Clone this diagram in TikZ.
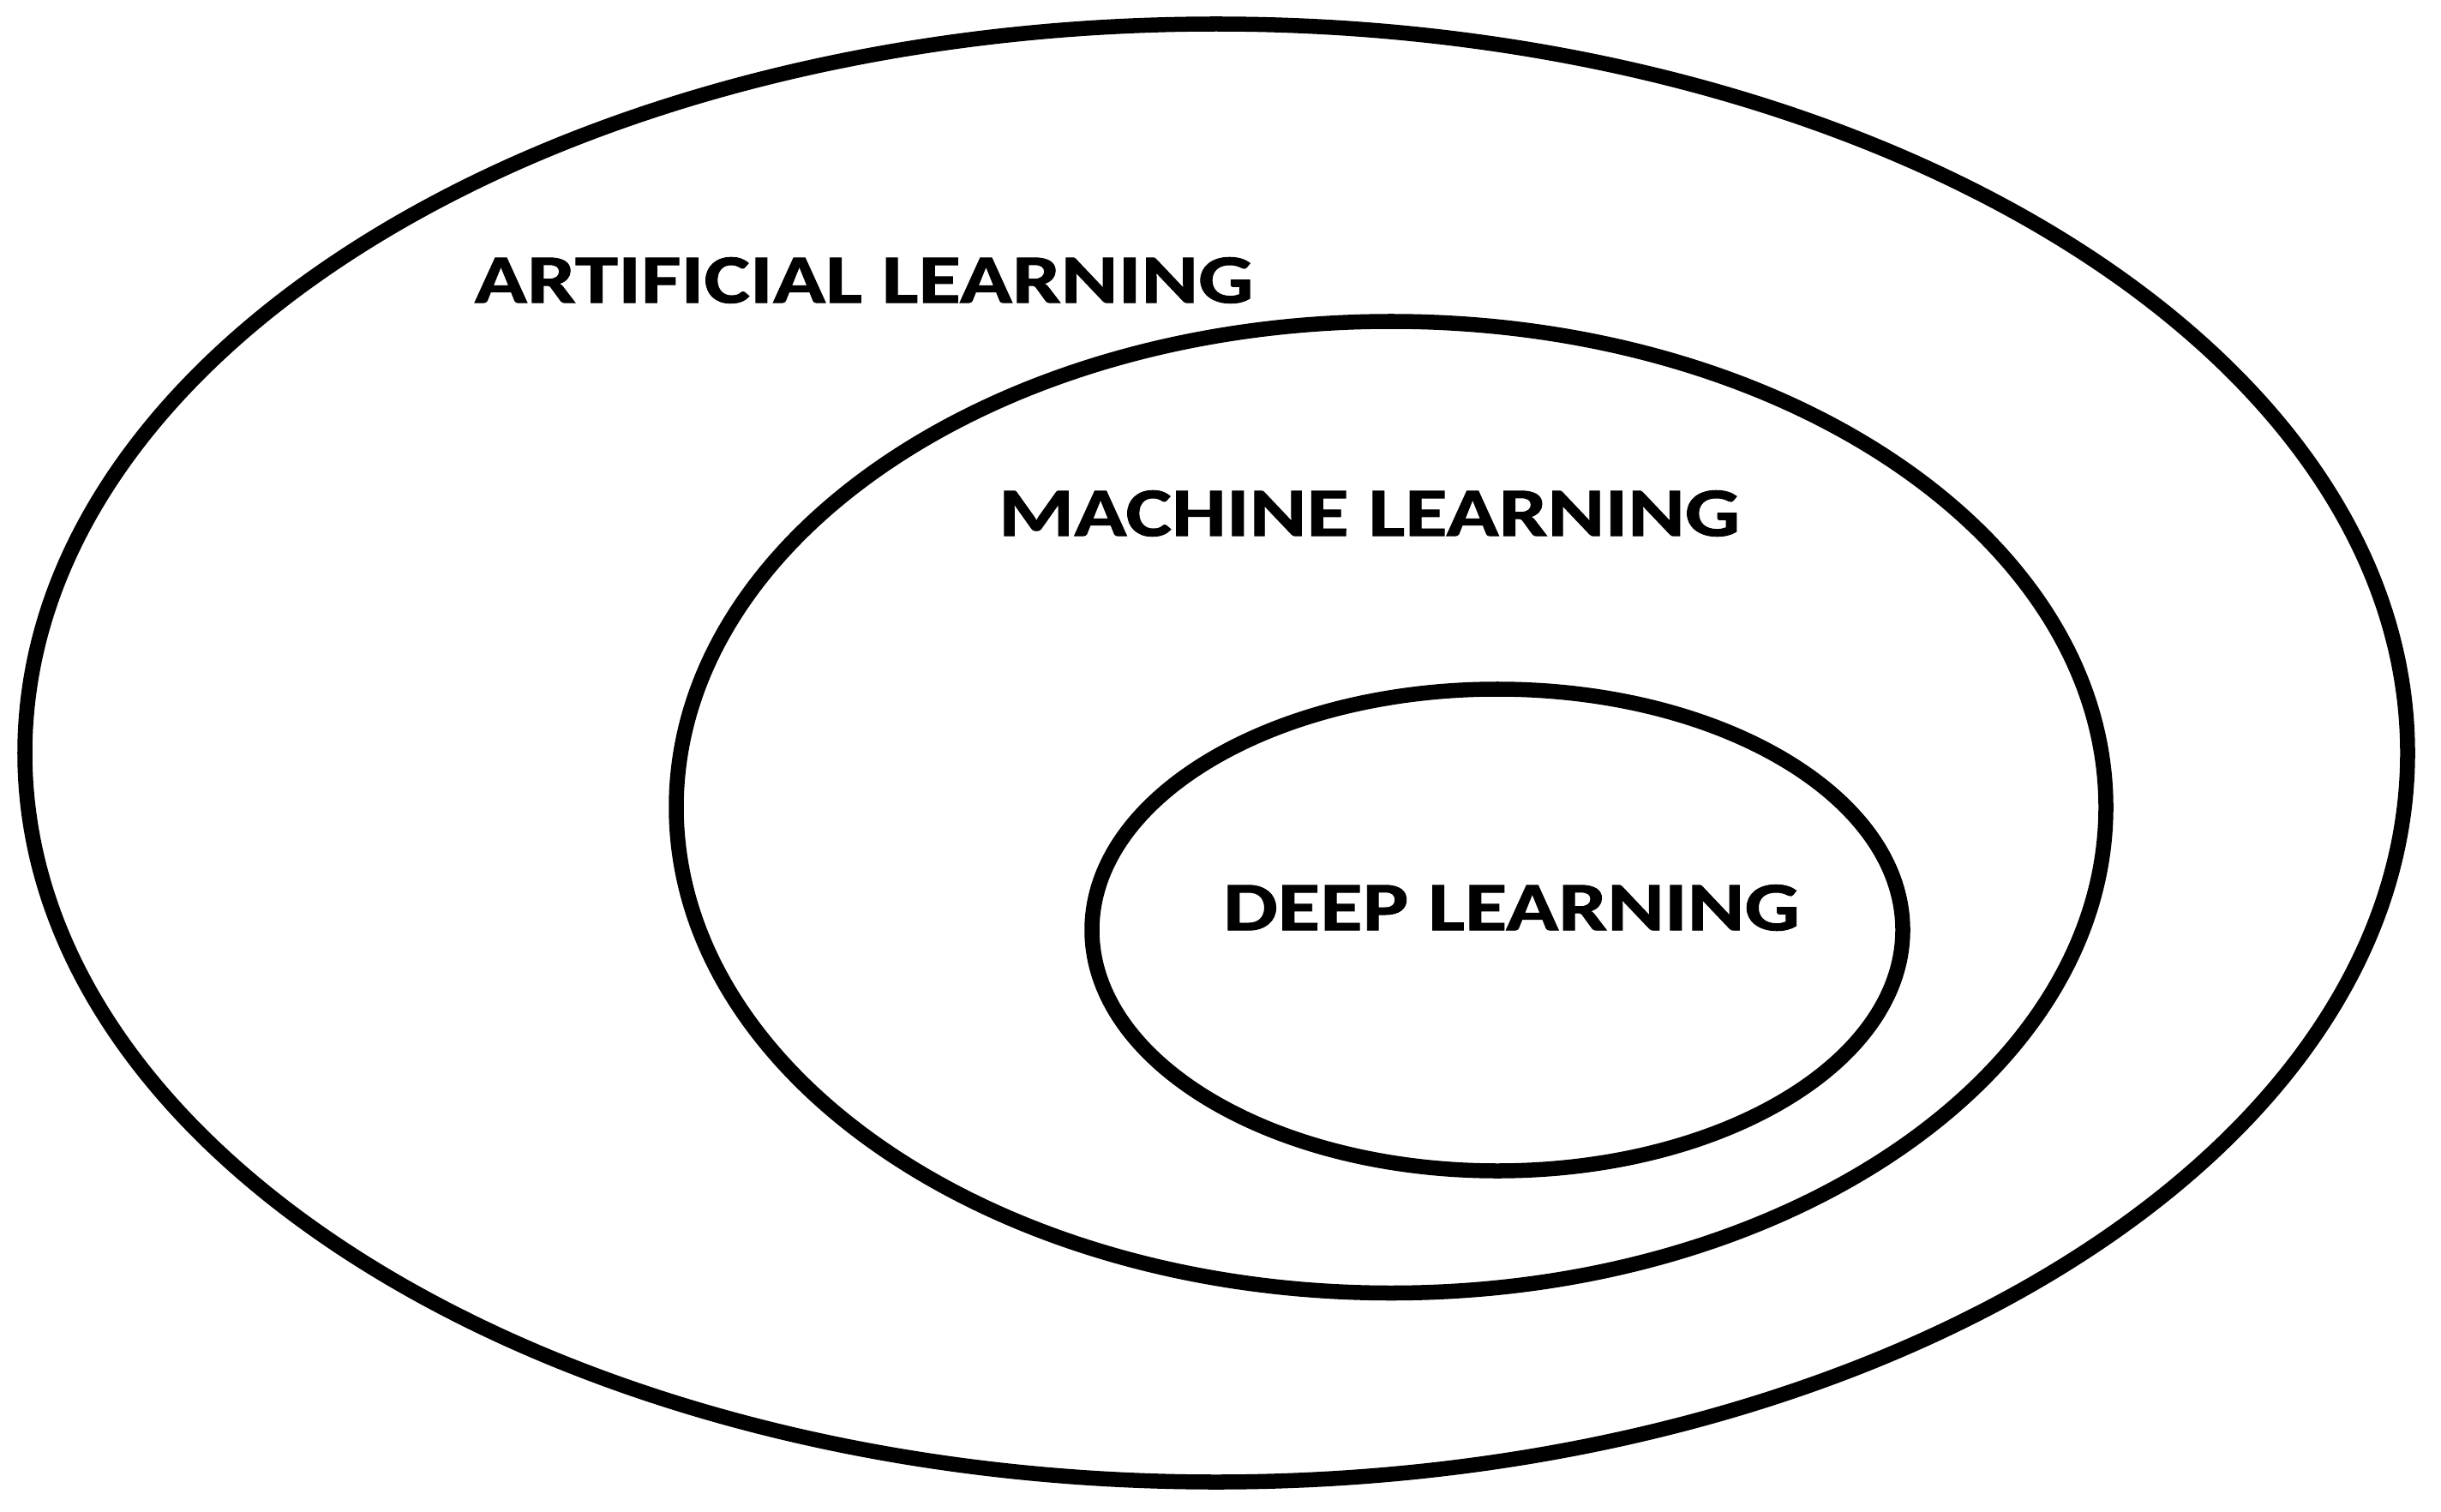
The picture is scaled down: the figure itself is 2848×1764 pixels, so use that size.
\documentclass[tikz,border=0pt]{standalone}
\usepackage{fontspec}
\setmainfont{Carlito}
\newfontfamily\lblfont[FakeStretch=1.25,FakeBold=1.2]{Carlito}
\begin{document}
\begin{tikzpicture}[x=0.01cm,y=-0.01cm,
  ring/.style={draw=black,line width=0.175cm},
  lbl/.style={inner sep=0pt,anchor=center,font=\lblfont\fontsize{23}{23}\selectfont\bfseries}]
\useasboundingbox[fill=white] (0,0) rectangle (2848,1764);
\coordinate (cai) at (1419,878.5);
\coordinate (cml) at (1623,941.75);
\coordinate (cdl) at (1747,1085);
\draw[ring] (cai) ellipse [x radius=1390, y radius=850.5];
\draw[ring] (cml) ellipse [x radius=834, y radius=566.75];
\draw[ring] (cdl) ellipse [x radius=473, y radius=281];
\node[lbl] (ai) at (1008,327) {ARTIFICIAL LEARNING};
\node[lbl] (ml) at (1597.5,599) {MACHINE LEARNING};
\node[lbl] (dl) at (1763.5,1059) {DEEP LEARNING};
\end{tikzpicture}
\end{document}
